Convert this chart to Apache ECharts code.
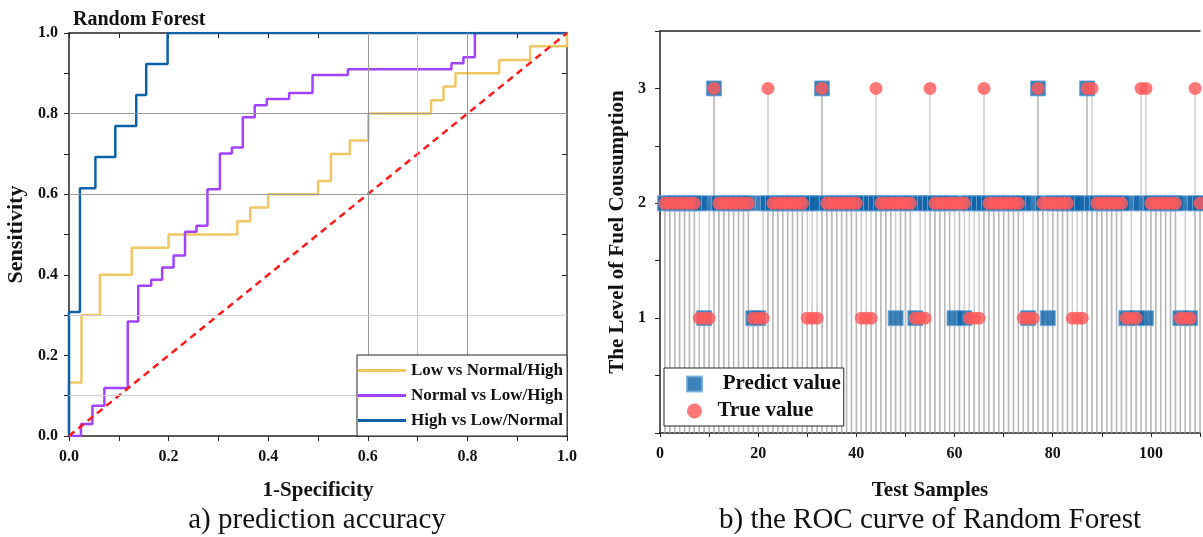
<!DOCTYPE html>
<html>
<head>
<meta charset="utf-8">
<script src="https://cdn.jsdelivr.net/npm/echarts@6.0.0/dist/echarts.min.js"></script>
<style>
  html, body { margin: 0; padding: 0; background: #fff; }
  #chart { width: 1203px; height: 537px; }
</style>
</head>
<body>
<div id="chart"></div>
<script>
// ---- left panel: ROC step curves (corner points, step "end") ----
const lowFpr = [0, 0, 0.025, 0.062, 0.126, 0.2, 0.338, 0.364, 0.4, 0.5, 0.526, 0.564, 0.601, 0.727, 0.752, 0.776, 0.864, 0.926, 1];
const lowTpr = [0, 0.133, 0.3, 0.4, 0.467, 0.5, 0.533, 0.567, 0.6, 0.633, 0.7, 0.733, 0.8, 0.833, 0.867, 0.9, 0.933, 0.967, 1];

const normalFpr = [0, 0.024, 0.047, 0.071, 0.118, 0.139, 0.165, 0.187, 0.21, 0.233, 0.256, 0.278, 0.303, 0.327, 0.349, 0.373, 0.397, 0.442, 0.489, 0.56, 0.768, 0.792, 0.815, 1];
const normalTpr = [0, 0.03, 0.075, 0.119, 0.284, 0.373, 0.388, 0.418, 0.448, 0.507, 0.522, 0.612, 0.701, 0.716, 0.791, 0.821, 0.836, 0.851, 0.896, 0.91, 0.925, 0.94, 1, 1];

const highFpr = [0, 0, 0.022, 0.053, 0.093, 0.135, 0.155, 0.198, 1];
const highTpr = [0, 0.308, 0.615, 0.692, 0.769, 0.846, 0.923, 1, 1];

// ---- right panel: level per test sample (samples 1..110) ----
const trueLevel = [
  2,2,2,2,2,2,2,1,1,1,
  3,2,2,2,2,2,2,2,1,1,
  1,3,2,2,2,2,2,2,2,1,
  1,1,3,2,2,2,2,2,2,2,
  1,1,1,3,2,2,2,2,2,2,
  2,1,1,1,3,2,2,2,2,2,
  2,2,1,1,1,3,2,2,2,2,
  2,2,2,1,1,1,3,2,2,2,
  2,2,2,1,1,1,3,3,2,2,
  2,2,2,2,1,1,1,3,3,2,
  2,2,2,2,2,1,1,1,3,2
];
const predLevel = [
  2,2,2,2,2,2,2,2,1,2,
  3,2,2,2,2,2,2,2,1,1,
  2,2,2,2,2,2,2,2,2,2,
  2,2,3,2,2,2,2,2,2,2,
  2,2,2,2,2,2,2,1,2,2,
  2,1,2,2,2,2,2,2,2,1,
  2,1,2,2,2,2,2,2,2,2,
  2,2,2,2,1,2,3,2,1,2,
  2,2,2,2,2,2,3,2,2,2,
  2,2,2,2,1,2,1,2,1,2,
  2,2,2,2,2,1,2,1,2,2
];
const levelTicks = [1, 2, 3];

const FONT = '"Liberation Serif", "Times New Roman", serif';
const zip = (xs, ys) => xs.map((x, i) => [x, ys[i]]);
const bySample = (arr) => arr.map((v, i) => [i + 1, v]);

const chart = echarts.init(document.getElementById('chart'));

const boldText = (size) => ({ fontFamily: FONT, fontWeight: 'bold', fontSize: size, color: '#111' });

const option = {
  animation: false,
  backgroundColor: '#fff',
  title: {
    text: 'Random Forest',
    left: 68, top: 5,
    textStyle: boldText(20)
  },
  graphic: [
    { type: 'text', x: 317, y: 520, style: { text: 'a) prediction accuracy', textAlign: 'center', textVerticalAlign: 'middle', fontFamily: FONT, fontSize: 29, fill: '#111' } },
    { type: 'text', x: 930, y: 520, style: { text: 'b) the ROC curve of Random Forest', textAlign: 'center', textVerticalAlign: 'middle', fontFamily: FONT, fontSize: 29, fill: '#111' } }
  ],
  legend: [
    {
      data: ['Low vs Normal/High', 'Normal vs Low/High', 'High vs Low/Normal'],
      orient: 'vertical',
      left: 357, top: 355,
      padding: [6, 4, 6, 1],
      itemGap: 6,
      itemWidth: 48, itemHeight: 3,
      icon: 'rect',
      z: 20,
      backgroundColor: '#fff',
      borderColor: '#222', borderWidth: 1,
      textStyle: { ...boldText(17), lineHeight: 19 }
    },
    {
      data: [{ name: 'Predict value', icon: 'rect' }, { name: 'True value', icon: 'circle' }],
      orient: 'vertical',
      left: 664, top: 368,
      padding: [5, 3, 4, 22],
      itemGap: 5,
      itemWidth: 15, itemHeight: 15,
      z: 20,
      backgroundColor: '#fff',
      borderColor: '#222', borderWidth: 1,
      formatter: (n) => (n === 'Predict value' ? '   ' + n : '  ' + n),
      textStyle: { ...boldText(21), lineHeight: 22 }
    }
  ],
  grid: [
    { left: 69, top: 33, right: 636, bottom: 101 },
    { left: 660, top: 31, right: -3, bottom: 104 }
  ],
  xAxis: [
    {
      gridIndex: 0, type: 'value', min: 0, max: 1, interval: 0.2,
      name: '1-Specificity', nameLocation: 'middle', nameGap: 44,
      nameTextStyle: boldText(21),
      axisLine: { lineStyle: { color: '#222', width: 1.5 } },
      axisTick: { length: 5, lineStyle: { color: '#222' } },
      minorTick: { show: true, splitNumber: 2, length: 5, lineStyle: { color: '#222' } },
      splitLine: { show: false },
      axisLabel: { margin: 13, formatter: (v) => v.toFixed(1), ...boldText(16) }
    },
    {
      gridIndex: 0, type: 'value', position: 'top', min: 0, max: 1, interval: 0.1,
      axisLine: { onZero: false, lineStyle: { color: '#222', width: 1.5 } },
      axisTick: { inside: true, length: 5, lineStyle: { color: '#222' } },
      axisLabel: { show: false },
      splitLine: { show: false }
    },
    {
      gridIndex: 1, type: 'value', min: 0, max: 110, interval: 10,
      name: 'Test Samples', nameLocation: 'middle', nameGap: 47,
      nameTextStyle: boldText(21),
      axisLine: { lineStyle: { color: '#222', width: 1.5 } },
      axisTick: { length: 4, lineStyle: { color: '#222' } },
      splitLine: { show: false },
      axisLabel: { margin: 13, formatter: (v) => (v % 20 === 0 ? String(v) : ''), ...boldText(16) }
    },
    {
      gridIndex: 1, type: 'value', position: 'top', min: 0, max: 110,
      axisLine: { onZero: false, lineStyle: { color: '#222', width: 1.5 } },
      axisTick: { show: false },
      axisLabel: { show: false },
      splitLine: { show: false }
    }
  ],
  yAxis: [
    {
      gridIndex: 0, type: 'value', min: 0, max: 1, interval: 0.2,
      name: 'Sensitivity', nameLocation: 'middle', nameGap: 42,
      nameTextStyle: boldText(22),
      axisLine: { show: true, lineStyle: { color: '#222', width: 1.5 } },
      axisTick: { show: true, length: 5, lineStyle: { color: '#222' } },
      minorTick: { show: true, splitNumber: 2, length: 5, lineStyle: { color: '#222' } },
      splitLine: { show: false },
      axisLabel: { margin: 11, formatter: (v) => v.toFixed(1), ...boldText(16) }
    },
    {
      gridIndex: 0, type: 'value', position: 'right', min: 0, max: 1, interval: 0.1,
      axisLine: { show: true, onZero: false, lineStyle: { color: '#444', width: 1.5 } },
      axisTick: { show: true, inside: true, length: 5, lineStyle: { color: '#222' } },
      axisLabel: { show: false },
      splitLine: { show: false }
    },
    {
      gridIndex: 1, type: 'value', min: 0, max: 3.5, interval: 0.5,
      name: 'The Level of Fuel Cousumption', nameLocation: 'middle', nameGap: 32,
      nameTextStyle: boldText(21),
      axisLine: { show: true, lineStyle: { color: '#222', width: 1.5 } },
      axisTick: { show: true, length: 5, lineStyle: { color: '#222' } },
      splitLine: { show: false },
      axisLabel: { margin: 14, formatter: (v) => (levelTicks.includes(v) ? String(v) : ''), ...boldText(16) }
    }
  ],
  series: [
    // reference gridlines of the ROC panel
    {
      type: 'line', xAxisIndex: 0, yAxisIndex: 0, data: [], silent: true, z: 1,
      markLine: {
        silent: true, symbol: 'none', label: { show: false }, animation: false,
        data: [
          { xAxis: 0.6, lineStyle: { color: '#999', width: 1, type: 'solid' } },
          { xAxis: 0.7, lineStyle: { color: '#c4c4c4', width: 1, type: 'solid' } },
          { xAxis: 0.8, lineStyle: { color: '#999', width: 1, type: 'solid' } },
          { yAxis: 0.8, lineStyle: { color: '#999', width: 1, type: 'solid' } },
          { yAxis: 0.6, lineStyle: { color: '#999', width: 1, type: 'solid' } },
          { yAxis: 0.3, lineStyle: { color: '#cfcfcf', width: 1, type: 'solid' } },
          { yAxis: 0.1, lineStyle: { color: '#cfcfcf', width: 1, type: 'solid' } }
        ]
      }
    },
    {
      name: 'Low vs Normal/High', type: 'line', step: 'end', xAxisIndex: 0, yAxisIndex: 0,
      data: zip(lowFpr, lowTpr), showSymbol: false, color: '#f0c664',
      lineStyle: { width: 2.5 }
    },
    {
      name: 'Normal vs Low/High', type: 'line', step: 'end', xAxisIndex: 0, yAxisIndex: 0,
      data: zip(normalFpr, normalTpr), showSymbol: false, color: '#a142ff',
      lineStyle: { width: 2.5 }
    },
    {
      name: 'High vs Low/Normal', type: 'line', step: 'end', xAxisIndex: 0, yAxisIndex: 0,
      data: zip(highFpr, highTpr), showSymbol: false, color: '#0b62a6',
      lineStyle: { width: 2.5 }
    },
    {
      name: 'chance', type: 'line', xAxisIndex: 0, yAxisIndex: 0,
      data: [[0, 0], [1, 1]], showSymbol: false, color: '#ff1a1a',
      lineStyle: { width: 2.5, type: [7, 5] }, z: 3
    },
    // stems of the right panel
    {
      name: 'predStem', type: 'bar', xAxisIndex: 2, yAxisIndex: 2,
      data: bySample(predLevel), barWidth: 1.5, barGap: '-100%',
      itemStyle: { color: 'rgba(165,165,165,0.55)' }, silent: true, z: 1
    },
    {
      name: 'trueStem', type: 'bar', xAxisIndex: 2, yAxisIndex: 2,
      data: bySample(trueLevel), barWidth: 1.5, barGap: '-100%',
      itemStyle: { color: 'rgba(165,165,165,0.55)' }, silent: true, z: 1
    },
    {
      name: 'Predict value', type: 'scatter', xAxisIndex: 2, yAxisIndex: 2,
      data: bySample(predLevel), symbol: 'rect', symbolSize: 15,
      itemStyle: { color: '#0e63a9', borderColor: '#6fa8da', borderWidth: 1 }, z: 3
    },
    {
      name: 'True value', type: 'scatter', xAxisIndex: 2, yAxisIndex: 2,
      data: bySample(trueLevel), symbol: 'circle', symbolSize: 13,
      itemStyle: { color: '#ff5a5a', opacity: 0.82 }, z: 4
    }
  ]
};

chart.setOption(option);
</script>
</body>
</html>
